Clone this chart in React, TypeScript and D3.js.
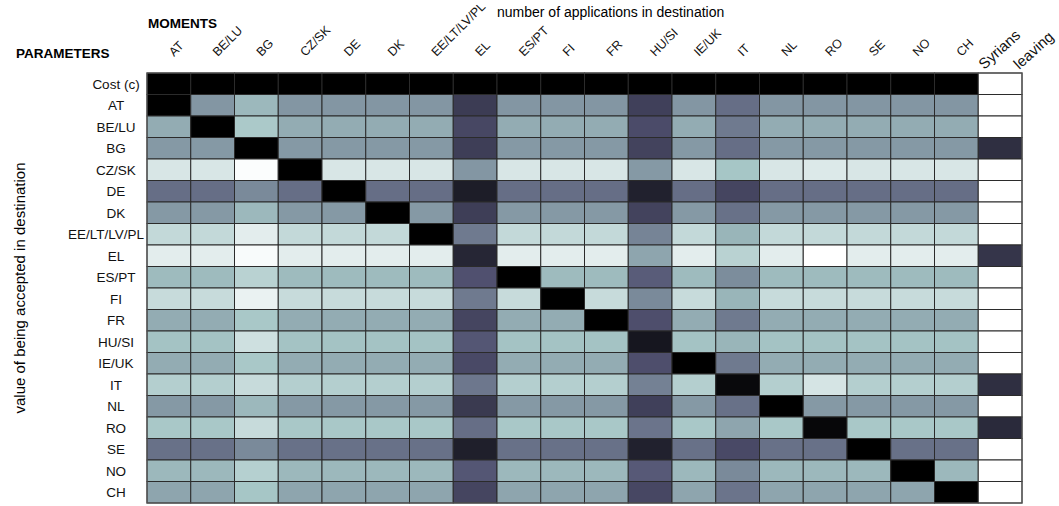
import React, { useRef, useEffect } from 'react';
import * as d3 from 'd3';

// destinations (columns)
const destinations = [
  'AT', 'BE/LU', 'BG', 'CZ/SK', 'DE', 'DK', 'EE/LT/LV/PL', 'EL', 'ES/PT', 'FI',
  'FR', 'HU/SI', 'IE/UK', 'IT', 'NL', 'RO', 'SE', 'NO', 'CH',
];
const extraColumn = 'Syrians leaving';

// parameters (rows)
const parameters = [
  'Cost (c)', 'AT', 'BE/LU', 'BG', 'CZ/SK', 'DE', 'DK', 'EE/LT/LV/PL', 'EL', 'ES/PT',
  'FI', 'FR', 'HU/SI', 'IE/UK', 'IT', 'NL', 'RO', 'SE', 'NO', 'CH',
];

// normalised values (0 = black, 1 = white)
const costRow = [0, 0, 0, 0, 0, 0, 0, 0, 0, 0, 0, 0, 0, 0, 0, 0, 0, 0, 0];
const acceptValues = [
  [0, .59, .70, .59, .59, .59, .59, .27, .59, .59, .59, .29, .59, .46, .59, .59, .59, .59, .59],
  [.66, 0, .76, .66, .66, .66, .66, .32, .66, .66, .66, .34, .66, .50, .66, .66, .66, .66, .66],
  [.60, .60, 0, .60, .60, .60, .60, .28, .60, .60, .60, .30, .60, .46, .60, .60, .60, .60, .60],
  [.89, .89, .99, 0, .89, .89, .89, .59, .89, .89, .89, .60, .89, .745, .89, .90, .89, .89, .89],
  [.46, .46, .55, .46, 0, .46, .46, .13, .46, .46, .46, .15, .46, .31, .46, .46, .46, .46, .46],
  [.60, .60, .70, .60, .60, 0, .60, .28, .60, .60, .60, .30, .60, .47, .60, .60, .60, .60, .60],
  [.83, .83, .92, .83, .83, .83, 0, .50, .83, .83, .83, .53, .83, .69, .83, .83, .83, .83, .83],
  [.92, .92, .98, .92, .92, .92, .92, .17, .92, .92, .92, .64, .92, .80, .92, 1, .92, .92, .92],
  [.71, .71, .80, .71, .71, .71, .71, .36, 0, .71, .71, .40, .71, .56, .71, .71, .71, .71, .71],
  [.84, .84, .94, .84, .84, .84, .84, .50, .84, 0, .84, .55, .84, .69, .84, .84, .84, .84, .84],
  [.66, .66, .755, .66, .66, .66, .66, .31, .66, .66, 0, .35, .66, .50, .66, .66, .66, .66, .66],
  [.735, .735, .86, .735, .735, .735, .735, .38, .735, .735, .735, .10, .735, .69, .735, .735, .735, .735, .735],
  [.66, .66, .755, .66, .66, .66, .66, .33, .66, .66, .66, .35, 0, .50, .66, .66, .66, .66, .66],
  [.785, .785, .84, .785, .785, .785, .785, .49, .785, .785, .785, .52, .785, .04, .785, .88, .785, .785, .785],
  [.60, .60, .70, .60, .60, .60, .60, .26, .60, .60, .60, .29, .60, .47, 0, .60, .60, .60, .60],
  [.756, .756, .84, .756, .756, .756, .756, .46, .756, .756, .756, .48, .756, .64, .756, .03, .756, .756, .756],
  [.47, .47, .55, .47, .47, .47, .47, .14, .47, .47, .47, .15, .47, .33, .47, .47, 0, .47, .47],
  [.70, .70, .79, .70, .70, .70, .70, .38, .70, .70, .70, .39, .70, .55, .70, .70, .70, 0, .70],
  [.64, .64, .745, .64, .64, .64, .64, .31, .64, .64, .64, .32, .64, .48, .64, .64, .64, .64, 0],
];
// last column, one value per parameter row
const syriansLeaving = [1, 1, 1, .21, 1, 1, 1, 1, .24, 1, 1, 1, 1, 1, .21, 1, .19, 1, 1, 1];

const FONT = '"Liberation Sans", Arial, sans-serif';

const App = () => {
  const ref = useRef<SVGSVGElement>(null);

  useEffect(() => {
    const width = 1059;
    const height = 506;
    const grid = { left: 147, right: 1022, top: 73, bottom: 503 };

    const svg = d3.select(ref.current);
    svg.selectAll('*').remove();
    svg.attr('width', width).attr('height', height);

    // matlab-like "bone" colormap
    const color = d3
      .scaleLinear<string>()
      .domain([0, 0.365079, 0.746032, 1])
      .range(['rgb(0,0,0)', 'rgb(81,81,113)', 'rgb(166,198,198)', 'rgb(255,255,255)'])
      .clamp(true);

    const cols = [...destinations, extraColumn];
    const x = d3.scaleBand().domain(cols).range([grid.left, grid.right]);
    const y = d3.scaleBand().domain(parameters).range([grid.top, grid.bottom]);

    const cells: { r: string; c: string; v: number }[] = [];
    parameters.forEach((p, i) => {
      const vals = i === 0 ? costRow : acceptValues[i - 1];
      destinations.forEach((d, j) => cells.push({ r: p, c: d, v: vals[j] }));
      cells.push({ r: p, c: extraColumn, v: syriansLeaving[i] });
    });

    svg
      .append('g')
      .selectAll('rect')
      .data(cells)
      .enter()
      .append('rect')
      .attr('x', (d) => x(d.c)!)
      .attr('y', (d) => y(d.r)!)
      .attr('width', x.bandwidth())
      .attr('height', y.bandwidth())
      .attr('fill', (d) => color(d.v))
      .attr('stroke', '#2b2b2b')
      .attr('stroke-width', 1);

    // outer frame
    svg
      .append('rect')
      .attr('x', grid.left)
      .attr('y', grid.top)
      .attr('width', grid.right - grid.left)
      .attr('height', grid.bottom - grid.top)
      .attr('fill', 'none')
      .attr('stroke', '#555')
      .attr('stroke-width', 1.2);

    // row labels
    const rowG = svg.append('g').attr('font-family', FONT).attr('font-size', 13.5).attr('fill', '#111');
    parameters.forEach((p) => {
      const t = rowG
        .append('text')
        .attr('x', 116)
        .attr('y', y(p)! + y.bandwidth() / 2 + 5)
        .attr('text-anchor', 'middle')
        .text(p);
      const w = (t.node() as SVGTextElement).getComputedTextLength();
      if (116 + w / 2 > 144) t.attr('x', 144 - w / 2);
    });

    // column labels
    const colG = svg.append('g').attr('font-family', FONT).attr('font-size', 12.5).attr('fill', '#111');
    destinations.forEach((d) => {
      const cx = x(d)! + x.bandwidth() / 2 + 5;
      colG
        .append('text')
        .attr('transform', `translate(${cx},57) rotate(-45)`)
        .attr('text-anchor', 'start')
        .text(d);
    });

    const sx = x(extraColumn)!;
    ['Syrians', 'leaving'].forEach((w, i) => {
      colG
        .append('text')
        .attr('transform', `translate(${sx + 6 + i * 35},70) rotate(-42)`)
        .attr('font-size', 15)
        .text(w);
    });

    // titles
    svg
      .append('text')
      .attr('x', 16)
      .attr('y', 58)
      .attr('font-family', FONT)
      .attr('font-weight', 'bold')
      .attr('font-size', 13.5)
      .text('PARAMETERS');
    svg
      .append('text')
      .attr('x', 148)
      .attr('y', 28)
      .attr('font-family', FONT)
      .attr('font-weight', 'bold')
      .attr('font-size', 13.5)
      .text('MOMENTS');
    svg
      .append('text')
      .attr('x', 497)
      .attr('y', 17)
      .attr('font-family', FONT)
      .attr('font-size', 14)
      .text('number of applications in destination');
    svg
      .append('text')
      .attr('transform', `translate(25,${(grid.top + grid.bottom) / 2}) rotate(-90)`)
      .attr('text-anchor', 'middle')
      .attr('font-family', FONT)
      .attr('font-size', 15)
      .text('value of being accepted in destination');
  }, []);

  return <svg ref={ref} style={{ position: 'absolute', left: 0, top: 0, background: '#fff' }} />;
};

export default App;
